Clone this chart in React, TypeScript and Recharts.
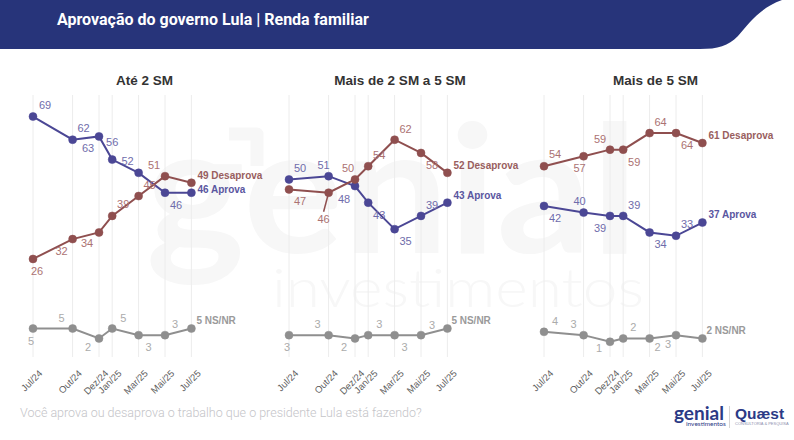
import { CartesianGrid, LabelList, Line, LineChart, XAxis, YAxis } from 'recharts';

const months = [0, 3, 5, 6, 8, 10, 12];
const monthLabels = ['Jul/24', 'Out/24', 'Dez/24', 'Jan/25', 'Mar/25', 'Mai/25', 'Jul/25'];

const ate2Aprova = [69, 62, 63, 56, 52, 46, 46];
const ate2Desaprova = [26, 32, 34, 39, 45, 51, 49];
const ate2Ns = [5, 5, 2, 5, 3, 3, 5];

const medioAprova = [50, 51, 48, 43, 35, 39, 43];
const medioDesaprova = [47, 46, 50, 54, 62, 58, 52];
const medioNs = [3, 3, 2, 3, 3, 3, 5];

const mais5Aprova = [42, 40, 39, 39, 34, 33, 37];
const mais5Desaprova = [54, 57, 59, 59, 64, 64, 61];
const mais5Ns = [4, 3, 1, 2, 2, 3, 2];

// where each value label sits relative to its point, same for the end labels
const ate2AprovaPos = [[12, -12], [11, -12], [-11, 12], [0, -18], [-11, -12], [11, 12], [6, -4]];
const ate2DesaprovaPos = [[4, 12], [-11, 12], [-12, 11], [11, -12], [11, -11], [-11, -11], [6, -8]];
const ate2NsPos = [[-2, 12], [-11, -11], [-11, 9], [11, -11], [10, 12], [10, -11], [5, -9]];
const medioAprovaPos = [[11, -11], [-5, -11], [-11, 13], [11, 12], [11, 12], [11, -11], [6, -8]];
const medioDesaprovaPos = [[11, 12], [-5, 26], [-7, -11], [11, -11], [11, -11], [11, 12], [6, -8]];
const medioNsPos = [[-2, 12], [-11, -11], [-11, 9], [11, -11], [10, 12], [11, -10], [4, -9]];
const mais5AprovaPos = [[11, 12], [-4, -12], [-10, 12], [11, -11], [11, 12], [11, -12], [6, -9]];
const mais5DesaprovaPos = [[11, -12], [-4, 12], [-10, -11], [11, 12], [11, -11], [11, 12], [6, -8]];
const mais5NsPos = [[11, -11], [-10, -11], [-11, 6], [10, -11], [8, 9], [-8, 9], [4, -8]];

const APROVA = '#4b4795';
const DESAPROVA = '#8f4f4f';
const NS = '#8f8f8f';
const FONT = '"Liberation Sans", Arial, sans-serif';

const toRows = (aprova: number[], desaprova: number[], ns: number[]) =>
  months.map((month, i) => ({
    month,
    aprova: aprova[i],
    desaprova: desaprova[i],
    ns: ns[i],
  }));

const panels = [
  {
    title: 'Até 2 SM',
    titleX: 144.5,
    left: 33,
    rows: toRows(ate2Aprova, ate2Desaprova, ate2Ns),
    pos: { aprova: ate2AprovaPos, desaprova: ate2DesaprovaPos, ns: ate2NsPos },
  },
  {
    title: 'Mais de 2 SM a 5 SM',
    titleX: 400,
    left: 288.5,
    rows: toRows(medioAprova, medioDesaprova, medioNs),
    pos: { aprova: medioAprovaPos, desaprova: medioDesaprovaPos, ns: medioNsPos },
    leader: 1,
  },
  {
    title: 'Mais de 5 SM',
    titleX: 655.5,
    left: 544,
    rows: toRows(mais5Aprova, mais5Desaprova, mais5Ns),
    pos: { aprova: mais5AprovaPos, desaprova: mais5DesaprovaPos, ns: mais5NsPos },
  },
];

const seriesList = [
  { key: 'ns', name: 'NS/NR', color: NS, labelColor: '#ababab', endColor: '#9a9a9a' },
  { key: 'aprova', name: 'Aprova', color: APROVA, labelColor: '#6f6cab', endColor: '#5a569f' },
  { key: 'desaprova', name: 'Desaprova', color: DESAPROVA, labelColor: '#ab7272', endColor: '#995e5e' },
];

function MonthTick({ x, y, payload }: any) {
  const label = monthLabels[months.indexOf(payload.value)];
  return (
    <text
      x={x + 10}
      y={y + 9}
      fontSize={9.5}
      fontFamily={FONT}
      fill="#5f5f5f"
      textAnchor="end"
      transform={`rotate(-45 ${x + 10} ${y + 9})`}
    >
      {label}
    </text>
  );
}

function Watermark() {
  return (
    <svg width={794} height={440} style={{ position: 'absolute', left: 0, top: 0 }}>
      <path d="M0 0H782C760 8 750 22 738 36C728 46 718 49 700 49H0Z" fill="#27347a" />
      <text
        x={146}
        y={253}
        fontSize={178}
        fontFamily="Lato, sans-serif"
        fontWeight={700}
        fill="#f7f7f7"
        textLength={492}
        lengthAdjust="spacingAndGlyphs"
      >
        genial
      </text>
      <path d="M229 134H257V166" fill="none" stroke="#f7f7f7" strokeWidth={13} strokeLinejoin="round" />
      <text
        x={272}
        y={307}
        fontSize={54}
        fontFamily="Lato, sans-serif"
        fontWeight={300}
        fill="#f7f7f7"
        textLength={372}
        lengthAdjust="spacingAndGlyphs"
      >
        investimentos
      </text>
    </svg>
  );
}

function Panel({ panel }: { panel: any }) {
  const chartLeft = panel.left - 33;
  return (
    <div style={{ position: 'absolute', left: chartLeft, top: 0 }}>
      <LineChart
        width={285}
        height={400}
        data={panel.rows}
        margin={{ top: 95, bottom: 13, left: 33, right: 93.6 }}
      >
        <CartesianGrid horizontal={false} stroke="#ececec" strokeWidth={1} />
        <XAxis
          dataKey="month"
          type="number"
          domain={[0, 12]}
          ticks={months}
          interval={0}
          height={30}
          axisLine={false}
          tickLine={false}
          tick={<MonthTick />}
        />
        <YAxis hide type="number" domain={[-3.6, 75.5]} />
        {seriesList.map((s) => (
          <Line
            key={s.key}
            dataKey={s.key}
            stroke={s.color}
            strokeWidth={2}
            dot={{ r: 4, fill: s.color, stroke: s.color, strokeWidth: 0.5 }}
            isAnimationActive={false}
          >
            <LabelList
              dataKey={s.key}
              content={(p: any) => {
                const [dx, dy] = panel.pos[s.key][p.index];
                const isEnd = p.index === months.length - 1;
                if (isEnd) {
                  return (
                    <text
                      x={p.x + dx}
                      y={p.y + dy + 4}
                      fontSize={10}
                      fontWeight={700}
                      fontFamily={FONT}
                      fill={s.endColor}
                    >
                      {`${p.value} ${s.name}`}
                    </text>
                  );
                }
                return (
                  <g>
                    {s.key === 'desaprova' && panel.leader === p.index && (
                      <line x1={p.x} y1={p.y} x2={p.x + dx} y2={p.y + dy - 7} stroke={s.color} strokeWidth={1.5} />
                    )}
                    <text
                      x={p.x + dx}
                      y={p.y + dy + 4}
                      fontSize={11}
                      fontFamily={FONT}
                      fill={s.labelColor}
                      textAnchor="middle"
                    >
                      {p.value}
                    </text>
                  </g>
                );
              }}
            />
          </Line>
        ))}
      </LineChart>
    </div>
  );
}

export default function App() {
  return (
    <div style={{ position: 'absolute', left: 0, top: 0, width: 794, height: 440, background: '#fff', overflow: 'hidden' }}>
      <Watermark />
      <div
        style={{
          position: 'absolute',
          left: 57,
          top: 10,
          fontFamily: 'Roboto, sans-serif',
          fontWeight: 700,
          fontSize: 16,
          color: '#fff',
          whiteSpace: 'nowrap',
        }}
      >
        Aprovação do governo Lula | Renda familiar
      </div>
      {panels.map((panel) => (
        <div
          key={panel.title}
          style={{
            position: 'absolute',
            left: panel.titleX - 100,
            width: 200,
            top: 73,
            textAlign: 'center',
            fontFamily: FONT,
            fontWeight: 700,
            fontSize: 13.5,
            color: '#333',
          }}
        >
          {panel.title}
        </div>
      ))}
      {panels.map((panel) => (
        <Panel key={panel.title} panel={panel} />
      ))}
      <div
        style={{
          position: 'absolute',
          left: 20,
          top: 405,
          fontFamily: 'Roboto, sans-serif',
          fontWeight: 300,
          fontSize: 12.5,
          color: '#c4c4c8',
          whiteSpace: 'nowrap',
        }}
      >
        Você aprova ou desaprova o trabalho que o presidente Lula está fazendo?
      </div>
      <div style={{ position: 'absolute', left: 674, top: 403, color: '#2b3a86', fontFamily: 'Lato, sans-serif', fontWeight: 700, fontSize: 19, lineHeight: '20px' }}>
        genial
      </div>
      <div style={{ position: 'absolute', left: 686, top: 420, color: '#2b3a86', fontFamily: 'Lato, sans-serif', fontSize: 6.5, lineHeight: '8px' }}>
        investimentos
      </div>
      <div style={{ position: 'absolute', left: 729, top: 406, width: 1, height: 22, background: '#d5d5d5' }} />
      <div style={{ position: 'absolute', left: 735, top: 404, color: '#2b3a86', fontFamily: FONT, fontWeight: 700, fontSize: 15.5, lineHeight: '20px' }}>
        Quæst
      </div>
      <div style={{ position: 'absolute', left: 735, top: 421, color: '#8c90ad', fontFamily: FONT, fontSize: 4, lineHeight: '6px', whiteSpace: 'nowrap' }}>
        CONSULTORIA & PESQUISA
      </div>
    </div>
  );
}
